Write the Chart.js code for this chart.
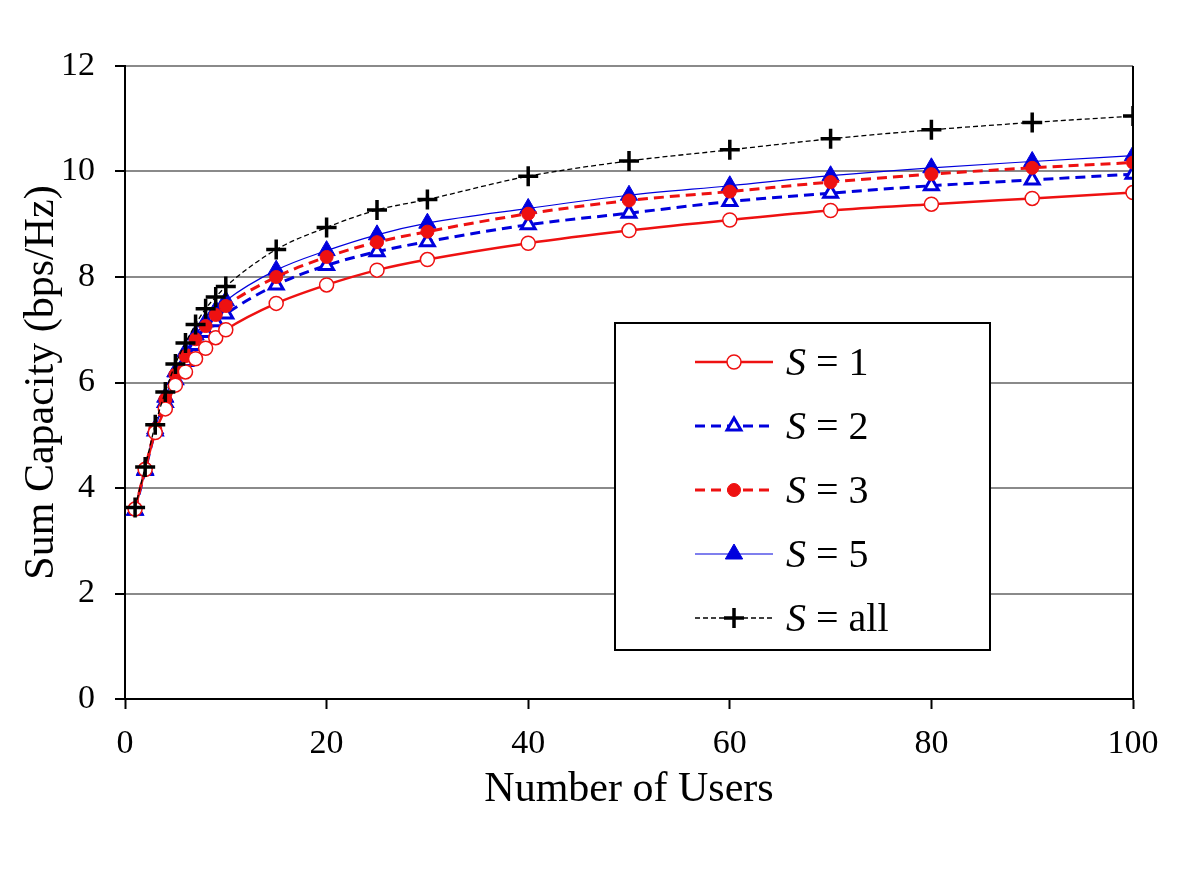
<!DOCTYPE html>
<html>
<head>
<meta charset="utf-8">
<script src="https://cdn.jsdelivr.net/npm/chart.js@4/dist/chart.umd.min.js"></script>
<style>
  body { margin: 0; background: #fff; }
  canvas { display: block; }
</style>
</head>
<body>
<canvas id="chart" width="1200" height="871"></canvas>
<script>
const users = [1, 2, 3, 4, 5, 6, 7, 8, 9, 10, 15, 20, 25, 30, 40, 50, 60, 70, 80, 90, 100];

const s1   = [3.60, 4.35, 5.05, 5.50, 5.95, 6.20, 6.45, 6.65, 6.85, 7.00, 7.50, 7.85, 8.13, 8.33, 8.64, 8.88, 9.08, 9.26, 9.38, 9.49, 9.60];
const s2   = [3.58, 4.33, 5.08, 5.62, 6.05, 6.40, 6.70, 6.95, 7.15, 7.30, 7.85, 8.22, 8.48, 8.67, 8.99, 9.21, 9.43, 9.59, 9.73, 9.84, 9.95];
const s3   = [3.60, 4.37, 5.12, 5.68, 6.15, 6.50, 6.82, 7.07, 7.28, 7.45, 8.00, 8.38, 8.66, 8.86, 9.20, 9.45, 9.62, 9.80, 9.95, 10.07, 10.17];
const s5   = [3.58, 4.35, 5.12, 5.72, 6.20, 6.58, 6.90, 7.15, 7.37, 7.55, 8.13, 8.50, 8.80, 9.02, 9.30, 9.55, 9.73, 9.92, 10.07, 10.19, 10.30];
const sAll = [3.63, 4.40, 5.20, 5.82, 6.35, 6.75, 7.10, 7.40, 7.62, 7.82, 8.52, 8.94, 9.27, 9.47, 9.91, 10.20, 10.41, 10.62, 10.79, 10.93, 11.05];

const seriesNames = ['1', '2', '3', '5', 'all'];

const RED = '#ee1111';
const BLUE = '#0000dd';
const SERIF = '"Liberation Serif", "DejaVu Serif", serif';

const pts = vals => vals.map((v, i) => ({ x: users[i], y: v }));

// legend drawn inside the plot, with italic S
const boxLegend = {
  id: 'boxLegend',
  afterDraw(chart) {
    const ctx = chart.ctx;
    const h = Chart.helpers;
    ctx.save();
    ctx.fillStyle = '#fff';
    ctx.fillRect(615, 323, 375, 327);
    ctx.strokeStyle = '#000';
    ctx.lineWidth = 2;
    ctx.strokeRect(615, 323, 375, 327);
    chart.data.datasets.forEach((ds, i) => {
      const y = 362 + i * 64;
      ctx.save();
      ctx.strokeStyle = ds.borderColor;
      ctx.lineWidth = ds.borderWidth;
      ctx.setLineDash(ds.borderDash || []);
      ctx.beginPath();
      ctx.moveTo(695, y);
      ctx.lineTo(773, y);
      ctx.stroke();
      ctx.restore();
      ctx.save();
      ctx.fillStyle = ds.pointBackgroundColor;
      ctx.strokeStyle = ds.pointBorderColor;
      ctx.lineWidth = ds.pointBorderWidth;
      ctx.setLineDash([]);
      h.drawPoint(ctx, {
        pointStyle: ds.pointStyle,
        radius: ds.pointRadius,
        borderWidth: ds.pointBorderWidth,
        rotation: 0
      }, 734, y);
      ctx.restore();
      ctx.fillStyle = '#000';
      ctx.textBaseline = 'middle';
      ctx.font = 'italic 40px ' + SERIF;
      ctx.fillText('S', 786, y + 2);
      const w = ctx.measureText('S').width;
      ctx.font = '40px ' + SERIF;
      ctx.fillText(' = ' + seriesNames[i], 786 + w, y + 2);
    });
    ctx.restore();
  }
};

// right frame line
const rightFrame = {
  id: 'rightFrame',
  afterDatasetsDraw(chart) {
    const { ctx, chartArea } = chart;
    ctx.save();
    ctx.strokeStyle = '#000';
    ctx.lineWidth = 2;
    ctx.beginPath();
    ctx.moveTo(chartArea.right, chartArea.top);
    ctx.lineTo(chartArea.right, chartArea.bottom);
    ctx.stroke();
    ctx.restore();
  }
};

const common = { fill: false, cubicInterpolationMode: 'monotone', pointHoverRadius: 6 };

new Chart(document.getElementById('chart'), {
  type: 'line',
  data: {
    datasets: [
      { ...common, label: 'S = 1', data: pts(s1), order: 2,
        borderColor: RED, borderWidth: 2.5,
        pointStyle: 'circle', pointRadius: 7, pointBorderWidth: 1.5,
        pointBorderColor: RED, pointBackgroundColor: '#fff' },
      { ...common, label: 'S = 2', data: pts(s2), order: 4,
        borderColor: BLUE, borderWidth: 3, borderDash: [10, 6],
        pointStyle: 'triangle', pointRadius: 8, pointBorderWidth: 3,
        pointBorderColor: BLUE, pointBackgroundColor: '#fff' },
      { ...common, label: 'S = 3', data: pts(s3), order: 3,
        borderColor: RED, borderWidth: 3, borderDash: [10, 6],
        pointStyle: 'circle', pointRadius: 6.5, pointBorderWidth: 1,
        pointBorderColor: RED, pointBackgroundColor: RED },
      { ...common, label: 'S = 5', data: pts(s5), order: 5,
        borderColor: BLUE, borderWidth: 1.2,
        pointStyle: 'triangle', pointRadius: 10, pointBorderWidth: 1,
        pointBorderColor: BLUE, pointBackgroundColor: BLUE },
      { ...common, label: 'S = all', data: pts(sAll), order: 1,
        borderColor: '#000', borderWidth: 1.3, borderDash: [5, 3],
        pointStyle: 'cross', pointRadius: 10, pointBorderWidth: 3.5,
        pointBorderColor: '#000', pointBackgroundColor: '#000' }
    ]
  },
  options: {
    responsive: false,
    animation: false,
    layout: { padding: { left: 13, right: 67, top: 66, bottom: 52 } },
    plugins: { legend: { display: false }, tooltip: { enabled: false } },
    scales: {
      x: {
        type: 'linear', min: 0, max: 100,
        afterFit: s => { s.height = 120; },
        ticks: { stepSize: 20, color: '#000', padding: 15, font: { family: SERIF, size: 34 } },
        grid: { drawOnChartArea: false, tickLength: 10, tickColor: '#000', tickWidth: 2 },
        border: { color: '#000', width: 2 },
        title: { display: true, text: 'Number of Users', color: '#000', font: { family: SERIF, size: 42 } }
      },
      y: {
        min: 0, max: 12,
        afterFit: s => { s.width = 112; },
        ticks: { stepSize: 2, color: '#000', padding: 20, font: { family: SERIF, size: 34 } },
        grid: { color: '#8a8a8a', lineWidth: 2, tickLength: 10, tickColor: '#000', tickWidth: 2 },
        border: { color: '#000', width: 2 },
        title: { display: true, text: 'Sum Capacity (bps/Hz)', color: '#000', font: { family: SERIF, size: 42 } }
      }
    }
  },
  plugins: [rightFrame, boxLegend]
});
</script>
</body>
</html>
